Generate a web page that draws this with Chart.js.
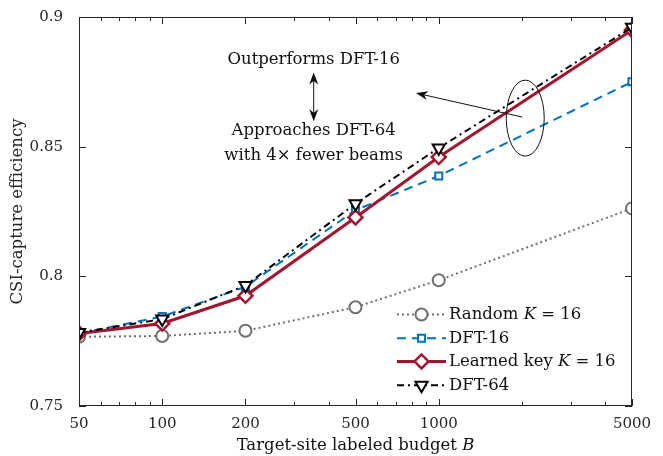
<!DOCTYPE html>
<html>
<head>
<meta charset="utf-8">
<script src="https://cdn.jsdelivr.net/npm/chart.js@4/dist/chart.umd.min.js"></script>
<style>
  html, body { margin: 0; padding: 0; background: #fff; }
  #wrap { width: 663px; height: 456px; }
</style>
</head>
<body>
<div id="wrap"><canvas id="c" width="663" height="456"></canvas></div>
<script>
// data
const budgets = [50, 100, 200, 500, 1000, 5000];
const randomK16 = [0.7767, 0.7770, 0.7790, 0.7881, 0.7985, 0.8262];
const dft16 = [0.7780, 0.7845, 0.7960, 0.8255, 0.8387, 0.8750];
const learnedK16 = [0.7780, 0.7818, 0.7925, 0.8227, 0.8460, 0.8950];
const dft64 = [0.7783, 0.7835, 0.7965, 0.8280, 0.8495, 0.8960];
const xTicks = [50, 100, 200, 500, 1000, 5000];
const xMinor = [60, 70, 80, 90, 300, 400, 600, 700, 800, 900, 2000, 3000, 4000];
const yTicks = [0.75, 0.8, 0.85, 0.9];
const yLabels = ['0.75', '0.8', '0.85', '0.9'];

const SERIF = '"DejaVu Serif", "Liberation Serif", serif';
const AX = '#262626';
const FS = 16.5;

const pts = arr => budgets.map((b, i) => ({ x: b, y: arr[i] }));

const datasets = [
  {
    label: 'Random', labelIt: 'K', labelTail: ' = 16',
    data: pts(randomK16), order: 4,
    borderColor: 'rgb(112,112,112)', borderWidth: 2, borderDash: [2, 3],
    pointStyle: 'circle', pointRadius: 6, pointBorderWidth: 2,
    pointBackgroundColor: '#fff', pointBorderColor: 'rgb(112,112,112)'
  },
  {
    label: 'DFT-16',
    data: pts(dft16), order: 3,
    borderColor: 'rgb(0,114,189)', borderWidth: 2, borderDash: [9, 6],
    pointStyle: 'rect', pointRadius: 5, pointBorderWidth: 2,
    pointBackgroundColor: '#fff', pointBorderColor: 'rgb(0,114,189)'
  },
  {
    label: 'Learned key', labelIt: 'K', labelTail: ' = 16',
    data: pts(learnedK16), order: 2,
    borderColor: 'rgb(162,20,47)', borderWidth: 3, borderDash: [],
    pointStyle: 'rectRot', pointRadius: 7, pointBorderWidth: 2.5,
    pointBackgroundColor: '#fff', pointBorderColor: 'rgb(162,20,47)'
  },
  {
    label: 'DFT-64',
    data: pts(dft64), order: 1,
    borderColor: '#000', borderWidth: 2, borderDash: [7, 4, 2, 4],
    pointStyle: 'triangle', pointRotation: 180, pointRadius: 7, pointBorderWidth: 2,
    pointBackgroundColor: '#fff', pointBorderColor: '#000'
  }
];

// frame, inward ticks, annotations, legend, x title
const decorations = {
  id: 'decorations',
  afterDatasetsDraw(chart) {
    const ctx = chart.ctx;
    const a = chart.chartArea;
    const xs = chart.scales.x, ys = chart.scales.y;
    ctx.save();
    ctx.strokeStyle = AX;
    ctx.lineWidth = 1;
    ctx.strokeRect(a.left + 0.5, a.top + 0.5, a.right - a.left - 1, a.bottom - a.top - 1);
    ctx.beginPath();
    xTicks.forEach(v => {
      const p = Math.round(xs.getPixelForValue(v)) + 0.5;
      ctx.moveTo(p, a.bottom); ctx.lineTo(p, a.bottom - 7);
      ctx.moveTo(p, a.top); ctx.lineTo(p, a.top + 7);
    });
    xMinor.forEach(v => {
      const p = Math.round(xs.getPixelForValue(v)) + 0.5;
      ctx.moveTo(p, a.bottom); ctx.lineTo(p, a.bottom - 4);
      ctx.moveTo(p, a.top); ctx.lineTo(p, a.top + 4);
    });
    yTicks.forEach(v => {
      const p = Math.round(ys.getPixelForValue(v)) + 0.5;
      ctx.moveTo(a.left, p); ctx.lineTo(a.left + 7, p);
      ctx.moveTo(a.right, p); ctx.lineTo(a.right - 7, p);
    });
    ctx.stroke();

    // annotations
    ctx.fillStyle = '#111';
    ctx.strokeStyle = '#111';
    ctx.font = FS + 'px ' + SERIF;
    ctx.textAlign = 'center';
    ctx.textBaseline = 'middle';
    const cx = xs.getPixelForValue(353);
    ctx.fillText('Outperforms DFT-16', cx, ys.getPixelForValue(0.8834));
    ctx.fillText('Approaches DFT-64', cx, ys.getPixelForValue(0.8560));
    ctx.fillText('with 4\u00d7 fewer beams', cx, ys.getPixelForValue(0.8467));

    const head = (x0, y0, x1, y1) => {
      const ang = Math.atan2(y1 - y0, x1 - x0);
      const L = 12, W = 4.5;
      ctx.beginPath();
      ctx.moveTo(x1, y1);
      ctx.lineTo(x1 - L * Math.cos(ang) + W * Math.sin(ang), y1 - L * Math.sin(ang) - W * Math.cos(ang));
      ctx.lineTo(x1 - L * 0.7 * Math.cos(ang), y1 - L * 0.7 * Math.sin(ang));
      ctx.lineTo(x1 - L * Math.cos(ang) - W * Math.sin(ang), y1 - L * Math.sin(ang) + W * Math.cos(ang));
      ctx.closePath();
      ctx.fill();
    };
    // double arrow
    const ya = ys.getPixelForValue(0.8786), yb = ys.getPixelForValue(0.8598);
    ctx.lineWidth = 1;
    ctx.beginPath(); ctx.moveTo(cx, ya + 6); ctx.lineTo(cx, yb - 6); ctx.stroke();
    head(cx, yb, cx, ya);
    head(cx, ya, cx, yb);
    // pointing arrow
    const tx = xs.getPixelForValue(2005), ty = ys.getPixelForValue(0.8614);
    const hx = xs.getPixelForValue(827), hy = ys.getPixelForValue(0.8707);
    ctx.beginPath(); ctx.moveTo(tx, ty); ctx.lineTo(hx + 6, hy + 1.4); ctx.stroke();
    head(tx, ty, hx, hy);
    // ellipse
    ctx.beginPath();
    ctx.ellipse(xs.getPixelForValue(2055), ys.getPixelForValue(0.8610), 19, 38, 0, 0, Math.PI * 2);
    ctx.stroke();

    // legend
    const rowY = [0.7853, 0.7761, 0.7672, 0.7580];
    const lx0 = 397, lx1 = 446;
    datasets.forEach((d, i) => {
      const y = ys.getPixelForValue(rowY[i]);
      ctx.save();
      ctx.strokeStyle = d.borderColor;
      ctx.lineWidth = d.borderWidth;
      ctx.setLineDash(d.borderDash);
      ctx.beginPath(); ctx.moveTo(lx0, y); ctx.lineTo(lx1, y); ctx.stroke();
      ctx.setLineDash([]);
      ctx.fillStyle = '#fff';
      ctx.strokeStyle = d.pointBorderColor;
      ctx.lineWidth = d.pointBorderWidth;
      Chart.helpers.drawPoint(ctx, {
        pointStyle: d.pointStyle, rotation: d.pointRotation || 0,
        radius: d.pointRadius, borderWidth: d.pointBorderWidth
      }, (lx0 + lx1) / 2, y);
      ctx.restore();
      ctx.fillStyle = '#111';
      ctx.textAlign = 'left';
      ctx.font = FS + 'px ' + SERIF;
      let x = 449;
      ctx.fillText(d.label + (d.labelIt ? ' ' : ''), x, y);
      x += ctx.measureText(d.label + (d.labelIt ? ' ' : '')).width;
      if (d.labelIt) {
        ctx.font = 'italic ' + FS + 'px ' + SERIF;
        ctx.fillText(d.labelIt, x, y);
        x += ctx.measureText(d.labelIt).width;
        ctx.font = FS + 'px ' + SERIF;
        ctx.fillText(d.labelTail, x, y);
      }
    });

    // x title
    ctx.textAlign = 'left';
    const t1 = 'Target-site labeled budget ';
    ctx.font = 'italic ' + FS + 'px ' + SERIF;
    const wB = ctx.measureText('B').width;
    ctx.font = FS + 'px ' + SERIF;
    const w1 = ctx.measureText(t1).width;
    const mid = (a.left + a.right) / 2;
    const sx = mid - (w1 + wB) / 2;
    ctx.fillText(t1, sx, 446);
    ctx.font = 'italic ' + FS + 'px ' + SERIF;
    ctx.fillText('B', sx + w1, 446);
    ctx.restore();
  }
};

new Chart(document.getElementById('c'), {
  type: 'line',
  data: { datasets },
  options: {
    responsive: false,
    animation: false,
    layout: { padding: { top: 17, right: 31, left: 0, bottom: 0 } },
    plugins: { legend: { display: false }, tooltip: { enabled: false } },
    scales: {
      x: {
        type: 'logarithmic', min: 50, max: 5000,
        afterBuildTicks: s => { s.ticks = xTicks.map(v => ({ value: v })); },
        afterFit: s => { s.height = 50; },
        grid: { display: false }, border: { display: false },
        ticks: {
          color: '#262626', padding: 1, maxRotation: 0, autoSkip: false,
          font: { family: SERIF, size: 15 },
          callback: v => String(v)
        }
      },
      y: {
        min: 0.75, max: 0.9,
        afterBuildTicks: s => { s.ticks = yTicks.map(v => ({ value: v })); },
        afterFit: s => { s.width = 79; },
        grid: { display: false }, border: { display: false },
        ticks: {
          color: '#262626', padding: 8,
          font: { family: SERIF, size: 15 },
          callback: v => yLabels[yTicks.findIndex(t => Math.abs(t - v) < 1e-9)]
        },
        title: {
          display: true, text: 'CSI-capture efficiency', color: '#262626',
          font: { family: SERIF, size: FS }, padding: { top: 8, bottom: 4 }
        }
      }
    }
  },
  plugins: [decorations]
});
</script>
</body>
</html>
